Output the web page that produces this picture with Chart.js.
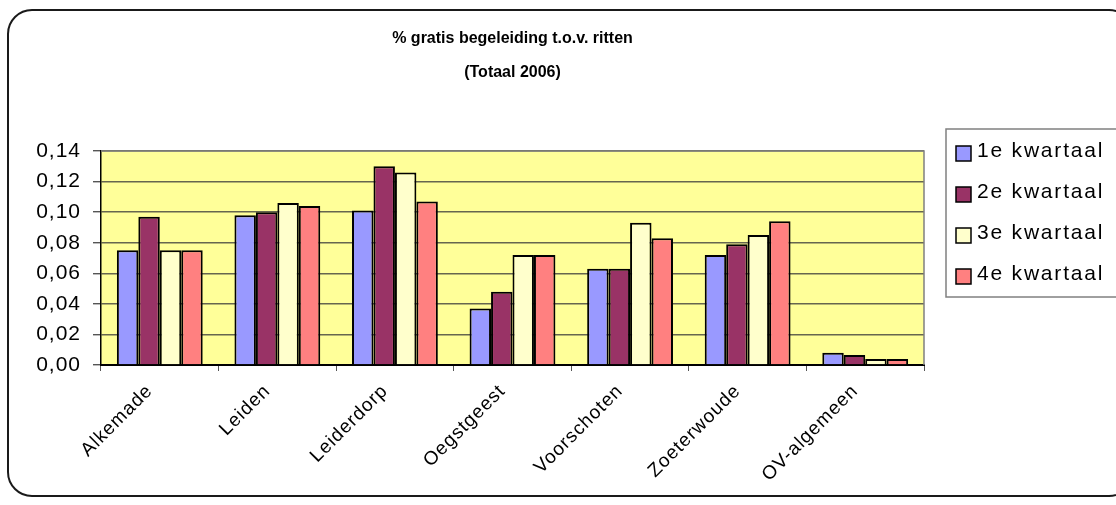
<!DOCTYPE html>
<html>
<head>
<meta charset="utf-8">
<script src="https://cdn.jsdelivr.net/npm/chart.js@4"></script>
<style>
    html, body { margin: 0; padding: 0; background: #ffffff; }
    #wrap { width: 1116px; height: 505px; position: relative; }
</style>
</head>
<body>
<div id="wrap"><canvas id="chart" width="1116" height="505"></canvas></div>
<script>
const categories = ['Alkemade', 'Leiden', 'Leiderdorp', 'Oegstgeest', 'Voorschoten', 'Zoeterwoude', 'OV-algemeen'];
const seriesNames = ['1e kwartaal', '2e kwartaal', '3e kwartaal', '4e kwartaal'];
const q1 = [0.075, 0.098, 0.101, 0.037, 0.063, 0.072, 0.008];
const q2 = [0.097, 0.100, 0.130, 0.048, 0.063, 0.079, 0.0065];
const q3 = [0.075, 0.106, 0.126, 0.072, 0.093, 0.085, 0.004];
const q4 = [0.075, 0.104, 0.107, 0.072, 0.083, 0.094, 0.004];
const seriesColors = ['#9999ff', '#993366', '#ffffcc', '#ff8080'];
const yTicks = [0, 0.02, 0.04, 0.06, 0.08, 0.10, 0.12, 0.14];
const titleLines = ['% gratis begeleiding t.o.v. ritten', '(Totaal 2006)'];

const FONT = "'Liberation Sans', Arial, sans-serif";

// letter spacing for tick text, set before anything is measured
const spacingPlugin = {
    id: 'spacing',
    beforeInit(chart) { chart.ctx.letterSpacing = '1px'; },
    beforeLayout(chart) { chart.ctx.letterSpacing = '1px'; },
    beforeDraw(chart) { chart.ctx.letterSpacing = '1px'; }
};

// yellow plot area, outer rounded frame and the two-line title
const backgroundPlugin = {
    id: 'background',
    beforeDraw(chart) {
        const { ctx, chartArea } = chart;
        ctx.save();
        ctx.fillStyle = '#ffff99';
        ctx.fillRect(chartArea.left, chartArea.top, chartArea.right - chartArea.left, chartArea.bottom - chartArea.top);
        ctx.restore();
    },
    afterDraw(chart) {
        const { ctx, chartArea } = chart;
        ctx.save();
        // plot area border (top/right gray)
        ctx.strokeStyle = '#808080';
        ctx.lineWidth = 1.5;
        ctx.beginPath();
        ctx.moveTo(chartArea.left, chartArea.top);
        ctx.lineTo(chartArea.right, chartArea.top);
        ctx.lineTo(chartArea.right, chartArea.bottom);
        ctx.stroke();
        // rounded outer frame
        ctx.strokeStyle = '#1a1a1a';
        ctx.lineWidth = 2;
        ctx.beginPath();
        ctx.roundRect(8, 10, 1125, 486, 24);
        ctx.stroke();
        // title, centred over the plot area
        ctx.letterSpacing = '0px';
        ctx.font = 'bold 16px ' + FONT;
        ctx.fillStyle = '#000000';
        ctx.textAlign = 'center';
        ctx.textBaseline = 'middle';
        const cx = (chartArea.left + chartArea.right) / 2;
        titleLines.forEach((line, i) => ctx.fillText(line, cx, 39 + i * 34));
        ctx.restore();
    }
};

// legend box on the right, built from the datasets
const legendPlugin = {
    id: 'sideLegend',
    afterDraw(chart) {
        const ctx = chart.ctx;
        const x0 = 946, y0 = 129;
        ctx.save();
        ctx.fillStyle = '#ffffff';
        ctx.fillRect(x0, y0, 200, 168);
        ctx.strokeStyle = '#808080';
        ctx.lineWidth = 1.5;
        ctx.strokeRect(x0, y0, 200, 168);
        ctx.font = '21px ' + FONT;
        ctx.textBaseline = 'middle';
        ctx.letterSpacing = '1.8px';
        chart.data.datasets.forEach((ds, i) => {
            const cy = y0 + 22 + i * 41;
            ctx.fillStyle = ds.backgroundColor;
            ctx.fillRect(956, cy - 5, 15, 15);
            ctx.strokeStyle = '#000000';
            ctx.lineWidth = 1.5;
            ctx.strokeRect(956, cy - 5, 15, 15);
            ctx.fillStyle = '#000000';
            ctx.fillText(ds.label, 977, cy);
        });
        ctx.restore();
    }
};

const quarters = [q1, q2, q3, q4];

new Chart(document.getElementById('chart'), {
    type: 'bar',
    data: {
        labels: categories,
        datasets: quarters.map((values, i) => ({
            label: seriesNames[i],
            data: values,
            backgroundColor: seriesColors[i],
            borderColor: '#000000',
            borderWidth: 2,
            categoryPercentage: 0.73,
            barPercentage: 1.0
        }))
    },
    options: {
        responsive: false,
        animation: false,
        layout: { padding: { left: 0, right: 192, top: 151, bottom: 0 } },
        plugins: {
            legend: { display: false },
            tooltip: { enabled: false },
            title: { display: false }
        },
        scales: {
            x: {
                offset: true,
                afterFit(scale) { scale.height = 140; },
                grid: {
                    display: true,
                    drawOnChartArea: false,
                    drawTicks: true,
                    tickLength: 6,
                    color: '#555555',
                    offset: true
                },
                border: { display: true, color: '#000000', width: 2 },
                ticks: {
                    color: '#000000',
                    font: { family: FONT, size: 19 },
                    maxRotation: 45,
                    minRotation: 45,
                    autoSkip: false,
                    labelOffset: -10,
                    padding: 9
                }
            },
            y: {
                min: yTicks[0],
                max: yTicks[yTicks.length - 1],
                afterFit(scale) { scale.width = 101; },
                afterBuildTicks(scale) { scale.ticks = yTicks.map(v => ({ value: v })); },
                grid: {
                    color: '#66664f',
                    lineWidth: 1.4,
                    drawTicks: true,
                    tickLength: 8,
                    tickColor: '#555555'
                },
                border: { display: true, color: '#000000', width: 1.5 },
                ticks: {
                    color: '#000000',
                    font: { family: FONT, size: 21 },
                    padding: 12,
                    callback: v => Number(v).toFixed(2).replace('.', ',')
                }
            }
        }
    },
    plugins: [spacingPlugin, backgroundPlugin, legendPlugin]
});
</script>
</body>
</html>
